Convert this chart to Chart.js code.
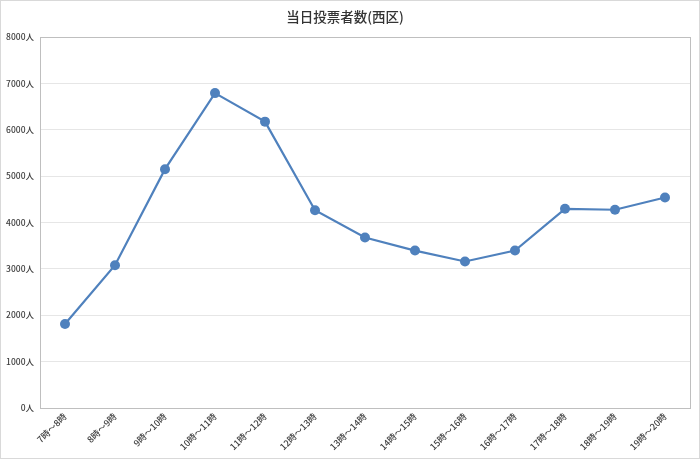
<!DOCTYPE html>
<html>
<head>
<meta charset="utf-8">
<script src="https://cdn.jsdelivr.net/npm/chart.js@4/dist/chart.umd.min.js"></script>
<style>
html,body{margin:0;padding:0;background:#fff;}
canvas{display:block;}
</style>
</head>
<body>
<canvas id="c" width="700" height="459"></canvas>
<script>
const categories = ["7時～8時","8時～9時","9時～10時","10時～11時","11時～12時","12時～13時","13時～14時","14時～15時","15時～16時","16時～17時","17時～18時","18時～19時","19時～20時"];
const voters = [1810, 3080, 5150, 6790, 6175, 4265, 3675, 3395, 3160, 3395, 4295, 4275, 4540];
const yTicks = [0,1000,2000,3000,4000,5000,6000,7000,8000];
const titleText = "当日投票者数(西区)";

const FONT = "'Noto Sans CJK JP','Noto Sans',sans-serif";

const framePlugin = {
  id: 'frame',
  beforeDraw(chart) {
    const ctx = chart.ctx;
    ctx.save();
    ctx.fillStyle = '#ffffff';
    ctx.fillRect(0, 0, chart.width, chart.height);
    ctx.strokeStyle = '#d9d9d9';
    ctx.lineWidth = 1;
    ctx.strokeRect(0.5, 0.5, chart.width - 1, chart.height - 1);
    ctx.restore();
  },
  beforeDatasetsDraw(chart) {
    const a = chart.chartArea;
    const ctx = chart.ctx;
    ctx.save();
    ctx.strokeStyle = '#bfbfbf';
    ctx.lineWidth = 1;
    ctx.strokeRect(Math.round(a.left) + 0.5, Math.round(a.top) + 0.5, Math.round(a.right - a.left), Math.round(a.bottom - a.top));
    ctx.restore();
  }
};

new Chart(document.getElementById('c'), {
  type: 'line',
  data: {
    labels: categories,
    datasets: [{
      data: voters,
      borderColor: '#4f81bd',
      backgroundColor: '#4f81bd',
      borderWidth: 2.2,
      pointRadius: 5,
      pointHoverRadius: 5,
      pointBorderWidth: 0,
      tension: 0
    }]
  },
  options: {
    responsive: false,
    devicePixelRatio: 1,
    animation: false,
    layout: { padding: { left: 0, right: 10, top: 0, bottom: 0 } },
    plugins: {
      legend: { display: false },
      tooltip: { enabled: false },
      title: {
        display: true,
        text: titleText,
        color: '#333333',
        font: { family: FONT, size: 13.5, weight: '500', lineHeight: 1.2 },
        padding: { top: 9, bottom: 11.8 }
      }
    },
    scales: {
      x: {
        offset: true,
        grid: { display: false, drawTicks: false },
        border: { display: false },
        ticks: {
          color: '#404040',
          font: { family: FONT, size: 9, weight: '500' },
          maxRotation: 45,
          minRotation: 45,
          autoSkip: false,
          padding: 3
        },
        afterFit(scale) { scale.height = 51; }
      },
      y: {
        min: 0,
        max: 8000,
        afterBuildTicks(scale) { scale.ticks = yTicks.map(v => ({ value: v })); },
        grid: { color: '#e6e6e6', drawTicks: false, lineWidth: 1 },
        border: { display: false },
        ticks: {
          color: '#404040',
          font: { family: FONT, size: 8.5, weight: '500' },
          padding: 6,
          callback: v => v + '人'
        },
        afterFit(scale) { scale.width = 40; }
      }
    }
  },
  plugins: [framePlugin]
});
</script>
</body>
</html>
